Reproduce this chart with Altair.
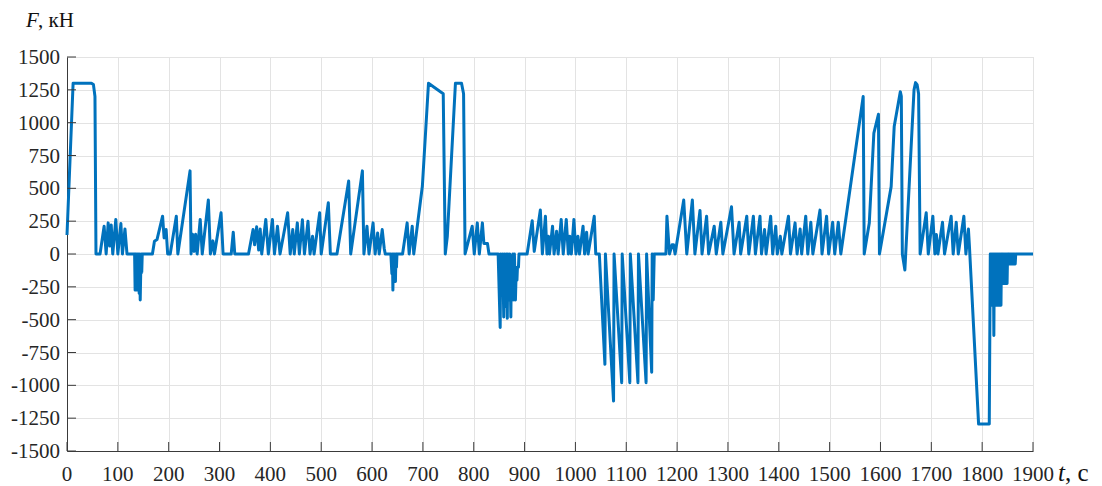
import altair as alt
import pandas as pd

# time, s
T = [0, 12, 48, 52, 55, 57, 65, 73, 77, 81, 84, 87, 90, 96, 100, 106, 109, 114, 118,
     133, 134, 135, 136, 137, 138, 139, 140, 141, 142, 143, 144, 145, 146, 147, 148,
     168, 172, 177, 188, 191, 195, 198, 203, 215, 218, 242, 244, 247, 250, 253, 256,
     262, 266, 278, 282, 287, 290, 303, 307, 323, 327, 330,
     357, 366, 369, 373, 377, 380, 383, 391, 396, 404, 408, 414, 419, 434, 439, 444,
     447, 453, 457, 463, 467, 474, 478, 483, 486, 497, 500, 514, 518, 531, 554, 558,
     581, 584, 590, 594, 602, 606, 611, 614, 620, 624, 626,
     637, 639, 640, 641, 642, 643, 644, 646, 647, 648, 649,
     660, 669, 673, 679, 682, 699, 711, 740, 744, 748, 764, 776, 780, 783,
     797, 801, 807, 811, 817, 820, 827, 830,
     848, 852, 853, 856, 857, 859, 860, 863, 864, 866, 867, 870, 871, 873, 874, 876,
     877, 879, 880, 882, 883, 885, 886, 888, 889,
     905, 915, 919, 931, 935, 941, 944, 947, 949, 955, 958, 963, 966, 972, 976, 982,
     986, 989, 992, 997, 1001, 1005, 1008, 1015, 1018, 1022, 1025, 1037, 1040,
     1047, 1058, 1059, 1075, 1076, 1091, 1092, 1107, 1108, 1123, 1124, 1139, 1140,
     1150, 1151, 1153, 1155,
     1178, 1180, 1185, 1190, 1193, 1196, 1213, 1219, 1230, 1235, 1245, 1249, 1258,
     1262, 1273, 1277, 1286, 1290, 1307, 1312, 1322, 1325, 1337, 1341, 1350, 1354,
     1363, 1366, 1372, 1375, 1384, 1388, 1394, 1397, 1403, 1406, 1419, 1423, 1432,
     1436, 1442, 1445, 1453, 1457, 1463, 1467, 1481, 1485, 1494, 1498, 1506, 1510,
     1517, 1522,
     1566, 1568, 1578, 1587, 1596, 1598, 1621, 1627, 1639, 1641, 1643, 1648, 1666,
     1669, 1672, 1675, 1678,
     1690, 1694, 1703, 1707, 1710, 1713, 1722, 1726, 1739, 1743, 1749, 1753, 1764,
     1768, 1773, 1775, 1793, 1814, 1816,
     1817, 1818, 1819, 1820, 1821, 1822, 1823, 1824, 1825, 1826, 1827, 1828, 1829,
     1830, 1831, 1832, 1833, 1834, 1835, 1836, 1837, 1838, 1839, 1840, 1841, 1842,
     1843, 1844, 1845, 1846, 1847, 1848, 1849, 1850, 1851, 1852, 1853, 1854, 1855,
     1856, 1857, 1858, 1859, 1860, 1861, 1862, 1863, 1864, 1865, 1866, 1900]

# force, kN
F = [145, 1300, 1300, 1290, 1200, 0, 0, 212, 0, 237, 60, 220, 0, 263, 0, 232, 0, 191, 0,
     0, -275, 0, -275, 0, -275, 0, -275, 0, -300, 0, -350, -140, 0, -140, 0,
     0, 97, 110, 288, 122, 186, 0, 0, 288, 0, 633, 0, 150, 20, 150, 0,
     263, 0, 411, 0, 100, 0, 314, 0, 0, 166, 0,
     0, 186, 70, 207, 30, 190, 0, 263, 0, 263, 0, 212, 0, 314, 0, 186,
     0, 237, 0, 260, 0, 250, 0, 135, 0, 314, 0, 390, 0, 0, 556, 0,
     633, 0, 212, 0, 237, 0, 160, 0, 186, 40, 0,
     0, -150, 0, -275, 0, -210, 0, -210, 0, -100, 0,
     0, 237, 0, 212, 0, 518, 1300, 1220, 0, 132, 1300, 1300, 1220, 0,
     212, 0, 237, 0, 237, 80, 80, 0,
     0, -560, 0, -300, 0, -480, 0, -400, 0, -490, 0, -350, 0, -480, -100, -350,
     0, -350, 0, -350, -200, -200, -100, -100, 0,
     0, 254, 20, 335, 0, 288, 0, 135, 0, 212, 0, 173, 0, 263, 0, 263,
     0, 135, 0, 263, 0, 135, 0, 212, 0, 166, 0, 288, 0,
     0, -840, 0, -1120, 0, -980, 0, -980, 0, -980, 0, -980, 0,
     -900, 0, -350, 0,
     0, 288, 0, 70, 70, 0, 411, 0, 411, 0, 332, 0, 288,
     0, 212, 0, 242, 0, 360, 0, 242, 0, 288, 0, 288, 0,
     288, 0, 186, 0, 288, 0, 212, 0, 135, 0, 288, 0, 237,
     0, 190, 0, 288, 0, 242, 0, 334, 0, 288, 0, 242, 0,
     242, 0,
     1200, 0, 236, 921, 1064, 0, 513, 970, 1236, 1200, 0, -122, 1250,
     1305, 1290, 1220, 0,
     314, 0, 288, 0, 148, 0, 242, 0, 288, 0, 242, 0, 288,
     0, 190, 56, -1295, -1295, 0,
     -390, 0, -390, 0, -390, 0, -620, 0, -390, 0, -390, 0, -390,
     0, -390, 0, -390, 0, -390, 0, -390, 0, -225, 0, -225, 0,
     -225, 0, -225, 0, -225, 0, -225, 0, -76, 0, -76, 0, -76,
     0, -76, 0, -76, 0, -76, 0, -76, 0, -76, 0, 0]

X_TICKS = list(range(0, 2000, 100))
Y_TICKS = list(range(-1500, 1750, 250))

W, H = 966, 394
SERIF = "Liberation Serif"
BLUE = "#0072BD"
AXC = "#3a3a3a"
LBL = "#262626"

df = pd.DataFrame({"t": T, "F": F, "i": list(range(len(T)))})
dx = pd.DataFrame({"v": X_TICKS, "s": [str(v) for v in X_TICKS]})
dy = pd.DataFrame({"v": Y_TICKS, "s": [str(v) for v in Y_TICKS]})

xs = alt.Scale(domain=[0, 1900], nice=False, zero=False)
ys = alt.Scale(domain=[-1500, 1500], nice=False, zero=False)

XAX = alt.Axis(values=X_TICKS, title=None, grid=True, tickSize=0, labels=False,
               domainColor=AXC, gridColor="#e3e3e3")
YAX = alt.Axis(values=Y_TICKS, title=None, grid=True, tickSize=0, labels=False,
               domainColor=AXC, gridColor="#e3e3e3")

line = alt.Chart(df).mark_line(color=BLUE, strokeWidth=3, strokeJoin="round").encode(
    x=alt.X("t:Q", scale=xs, axis=XAX),
    y=alt.Y("F:Q", scale=ys, axis=YAX),
    order="i:Q",
)

xt = alt.Chart(dx).mark_rule(color=AXC, strokeWidth=1).encode(
    x=alt.X("v:Q", scale=xs, axis=XAX), y=alt.value(H), y2=alt.value(H - 9))
yt = alt.Chart(dy).mark_rule(color=AXC, strokeWidth=1).encode(
    y=alt.Y("v:Q", scale=ys, axis=YAX), x=alt.value(0), x2=alt.value(9))

xl = alt.Chart(dx).mark_text(font=SERIF, fontSize=21, color=LBL, align="center",
                             baseline="alphabetic").encode(
    x=alt.X("v:Q", scale=xs, axis=XAX), y=alt.value(H + 30), text="s:N")
yl = alt.Chart(dy).mark_text(font=SERIF, fontSize=21, color=LBL, align="right",
                             baseline="middle", dy=1).encode(
    y=alt.Y("v:Q", scale=ys, axis=YAX), x=alt.value(-7), text="s:N")

lab = pd.DataFrame({"a": [0]})
def txt(s, x, y, size, style):
    return alt.Chart(lab).mark_text(text=s, font=SERIF, fontSize=size, fontStyle=style,
                                    align="left", baseline="alphabetic",
                                    color="#111111").encode(x=alt.value(x), y=alt.value(y))

f1 = txt("F", -41, -30, 21, "italic")
f2 = txt(", кН", -29, -30, 21, "normal")
t1 = txt("t", 991, 424, 25, "italic")
t2 = txt(", с", 998, 424, 25, "normal")

chart = alt.layer(line, xt, yt, xl, yl, f1, f2, t1, t2).properties(
    width=W, height=H,
    autosize=alt.AutoSizeParams(type="none"),
    padding={"left": 59, "top": 49, "right": 60, "bottom": 40},
).configure_view(stroke=None).configure(background="white")

chart.save("out.html", embed_options={"renderer": "svg", "actions": False})
